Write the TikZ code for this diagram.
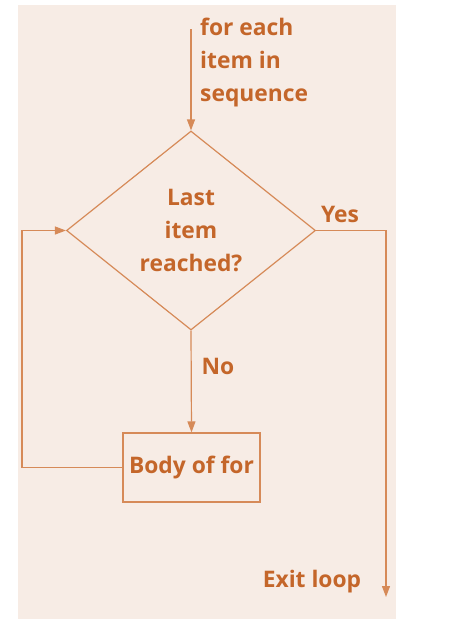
\documentclass[tikz,border=0pt]{standalone}
\usepackage{fontspec}
\setmainfont{Open Sans}
\usetikzlibrary{shapes.geometric,arrows.meta}

\definecolor{loopink}{RGB}{196,102,42}
\definecolor{loopline}{RGB}{214,138,88}
\definecolor{loopback}{RGB}{247,236,229}

\tikzset{
    flow/.style={draw=loopline, line width=1.2pt, -{Triangle[length=11pt,width=8pt]}},
    txt/.style={text=loopink, font=\bfseries\fontsize{22.8}{33}\selectfont, inner sep=0pt}
}

\begin{document}
\begin{tikzpicture}[x=1pt,y=-1pt]
    \useasboundingbox (0,0) rectangle (457,619);
    \fill[loopback] (18,5) rectangle (396,619);

    \coordinate (start) at (191,29);
    \node[diamond, draw=loopline, line width=1.2pt, minimum width=249pt, minimum height=199pt,
          txt, align=center] (last) at (191,230.5) {Last\\item\\reached?};
    \node[rectangle, draw=loopline, line width=1.2pt, minimum width=137pt, minimum height=69pt,
          txt] (body) at (191.5,467.5) {Body of for};
    \coordinate (exit) at (386,597);
    \coordinate (back) at (22,230.5);

    \draw[flow] (start) -- (last.north);
    \draw[flow] (last.south) -- (body.north);
    \draw[flow] (last.east) -| (exit);
    \draw[flow] (body.west) -| (back) -- (last.west);

    \node[txt, anchor=west, align=left] (seq) at (200,63) {for each\\item in\\sequence};
    \node[txt] (yes) at (340,214) {Yes}; % true branch
    \node[txt] (no) at (218,366) {No}; % false branch
    \node[txt] (out) at (312,582) {Exit loop};
\end{tikzpicture}
\end{document}
